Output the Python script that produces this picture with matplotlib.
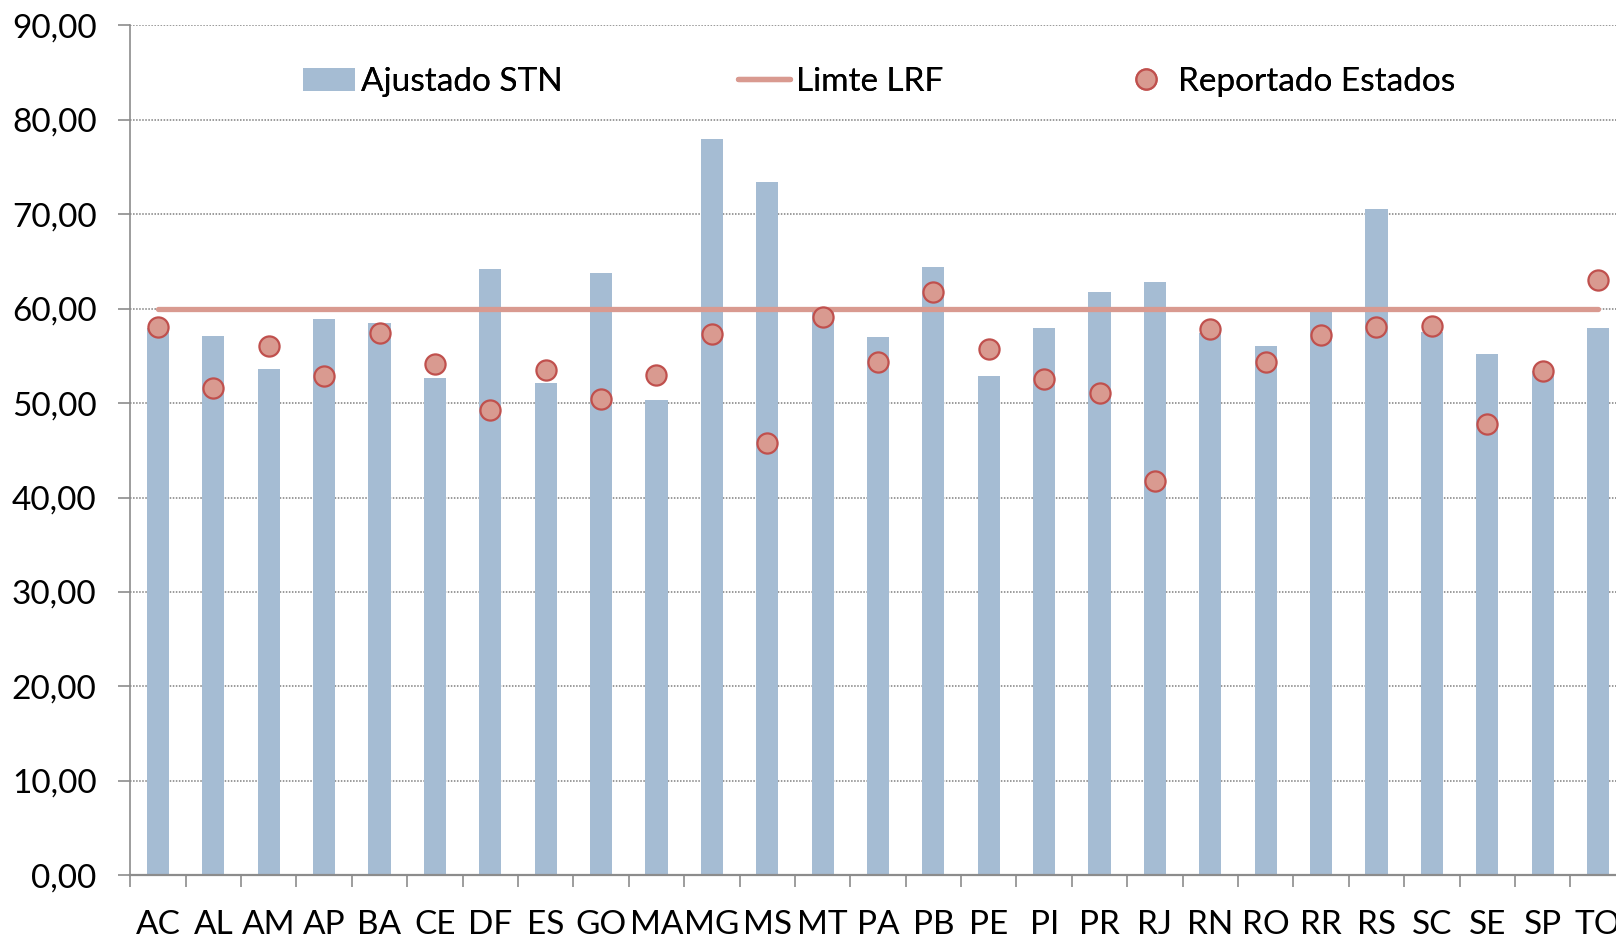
import matplotlib
matplotlib.use("Agg")
import matplotlib.pyplot as plt
from matplotlib.lines import Line2D
from matplotlib.patches import Patch
import numpy as np

plt.rcParams['font.family'] = ['Lato', 'DejaVu Sans']

states = ["AC", "AL", "AM", "AP", "BA", "CE", "DF", "ES", "GO", "MA", "MG", "MS", "MT", "PA",
          "PB", "PE", "PI", "PR", "RJ", "RN", "RO", "RR", "RS", "SC", "SE", "SP", "TO"]
ajustado_stn = [57.9, 57.1, 53.6, 58.9, 58.5, 52.7, 64.2, 52.1, 63.8, 50.3, 78.0, 73.4, 59.6, 57.0,
                64.4, 52.9, 58.0, 61.8, 62.8, 57.4, 56.0, 59.7, 70.6, 57.5, 55.2, 53.4, 58.0]
reportado_estados = [58.1, 51.6, 56.0, 52.9, 57.4, 54.1, 49.3, 53.5, 50.4, 53.0, 57.3, 45.8, 59.1, 54.3,
                     61.8, 55.7, 52.5, 51.1, 41.8, 57.8, 54.3, 57.2, 58.1, 58.2, 47.8, 53.4, 63.0]
limite_lrf = [60.0] * len(states)
yticks = [0, 10, 20, 30, 40, 50, 60, 70, 80, 90]
ytick_labels = ["0,00", "10,00", "20,00", "30,00", "40,00", "50,00", "60,00", "70,00", "80,00", "90,00"]
legend_labels = ["Ajustado STN", "Limte LRF", "Reportado Estados"]

bar_color = "#A5BCD3"
line_color = "#D99A90"
dot_face = "#D99A90"
dot_edge = "#C0504D"
axis_color = "#8C8C8C"
FS = 24

W, H = 1616, 938
fig = plt.figure(figsize=(W / 100, H / 100), dpi=100)
left_px, right_px = 130.3, 1625.7
top_px, bottom_px = 25.3, 875.3
ax = fig.add_axes([left_px / W, 1 - bottom_px / H, (right_px - left_px) / W, (bottom_px - top_px) / H])

x = np.arange(len(states))
ax.bar(x, ajustado_stn, width=0.4, color=bar_color, zorder=2)
ax.plot(x, limite_lrf, color=line_color, lw=3.8, solid_capstyle='round', zorder=3)
ax.plot(x, reportado_estados, linestyle='none', marker='o', markersize=14.5,
        markerfacecolor=dot_face, markeredgecolor=dot_edge, markeredgewidth=1.6, zorder=4)

ax.set_xlim(-0.5, len(states) - 0.5)
ax.set_ylim(0, 90)
ax.set_yticks(yticks)
ax.set_yticklabels(ytick_labels, fontsize=FS)
ax.set_xticks(x)
ax.set_xticklabels(states, fontsize=FS)
ax.set_xticks(np.arange(-0.5, len(states), 1.0), minor=True)
ax.tick_params(axis='x', which='major', length=0, pad=25)
ax.tick_params(axis='x', which='minor', length=8.3, width=1.2, color=axis_color, direction='out')
ax.tick_params(axis='y', which='major', length=8.3, width=1.2, color=axis_color, direction='out', pad=16)

ax.yaxis.grid(True, linestyle=(0, (1, 1)), color="#7F7F7F", linewidth=1.1, zorder=0)
ax.set_axisbelow(True)
for s in ['top', 'right']:
    ax.spines[s].set_visible(False)
ax.spines['left'].set_color(axis_color)
ax.spines['left'].set_linewidth(1.2)
ax.spines['bottom'].set_color(axis_color)
ax.spines['bottom'].set_linewidth(1.6)

handles = [Patch(facecolor=bar_color, edgecolor='none'),
           Line2D([0], [0], color=line_color, lw=3.8, solid_capstyle='round'),
           Line2D([0], [0], linestyle='none', marker='o', markersize=14.5,
                  markerfacecolor=dot_face, markeredgecolor=dot_edge, markeredgewidth=1.6)]
legend_x_px = [303, 738, 1120]
for h, lab, lx in zip(handles, legend_labels, legend_x_px):
    leg = fig.legend([h], [lab], loc='center left', bbox_to_anchor=(lx / W, 1 - 82 / H),
                     frameon=False, fontsize=FS, handlelength=1.55, handletextpad=0.2,
                     borderpad=0, borderaxespad=0)
    fig.add_artist(leg)

fig.savefig("out.png", dpi=100)
